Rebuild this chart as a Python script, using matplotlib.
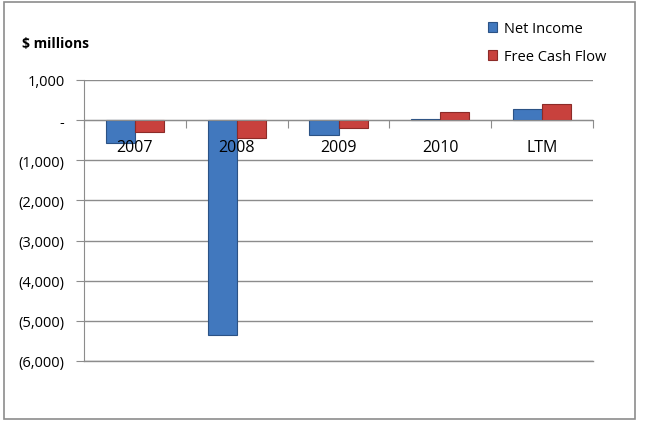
import numpy as np
import matplotlib.pyplot as plt
from matplotlib.patches import Rectangle
from matplotlib.ticker import FixedLocator

plt.rcParams['font.family'] = ['Open Sans', 'DejaVu Sans']

categories = ['2007', '2008', '2009', '2010', 'LTM']
net_income = [-570, -5350, -370, 40, 270]
free_cash_flow = [-300, -450, -200, 200, 400]
yticks = [1000, 0, -1000, -2000, -3000, -4000, -5000, -6000]
ylabels = ['1,000', '-', '(1,000)', '(2,000)', '(3,000)', '(4,000)', '(5,000)', '(6,000)']

blue = '#4178BE'
blue_edge = '#2B5285'
red = '#C8413D'
red_edge = '#8C2B28'
grid_c = '#8C8C8C'

fig = plt.figure(figsize=(6.45, 4.27), dpi=100)
ax = fig.add_axes([84 / 645, 65 / 427, 509 / 645, 281 / 427])

x = np.arange(len(categories))
w = 0.285
ax.bar(x - w / 2, net_income, w, color=blue, edgecolor=blue_edge, linewidth=0.8,
       label='Net Income', zorder=3)
ax.bar(x + w / 2, free_cash_flow, w, color=red, edgecolor=red_edge, linewidth=0.8,
       label='Free Cash Flow', zorder=3)

ax.set_xlim(-0.5, len(categories) - 0.5)
ax.set_ylim(-6000, 1000)
ax.set_yticks(yticks)
ax.set_yticklabels(ylabels, fontsize=10.5)
ax.yaxis.grid(True, color=grid_c, linewidth=1)
ax.axhline(-6000, color=grid_c, linewidth=1, clip_on=False, zorder=1)
ax.set_axisbelow(True)

for s in ['top', 'right']:
    ax.spines[s].set_visible(False)
ax.spines['left'].set_color(grid_c)
ax.spines['bottom'].set_position(('data', 0))
ax.spines['bottom'].set_color(grid_c)
ax.spines['bottom'].set_zorder(4)

# tick marks at category boundaries, labels drawn on top of the bars
ax.xaxis.set_major_locator(FixedLocator(np.arange(len(categories) + 1) - 0.5))
ax.xaxis.set_major_formatter(plt.NullFormatter())
ax.tick_params(axis='x', which='major', direction='out', length=6, color=grid_c)
ax.tick_params(axis='y', direction='out', length=6, color=grid_c, pad=8)
for xi, lab in zip(x, categories):
    ax.text(xi, -670, lab, ha='center', va='center', fontsize=11.5, zorder=10)

fig.text(22 / 645, 1 - 44 / 427, '$ millions', fontsize=10, fontweight='bold', va='center')

ax.legend(loc='upper left', bbox_to_anchor=(475 / 645, 1 - 9 / 427),
          bbox_transform=fig.transFigure, frameon=False, fontsize=10.5,
          handlelength=0.6, handleheight=0.6, labelspacing=0.9, handletextpad=0.5)

fig.patches.append(Rectangle((4 / 645, 7 / 427), 631 / 645, 417 / 427,
                             transform=fig.transFigure, fill=False,
                             edgecolor='#8C8C8C', linewidth=1.2))

fig.savefig('out.png', dpi=100)
